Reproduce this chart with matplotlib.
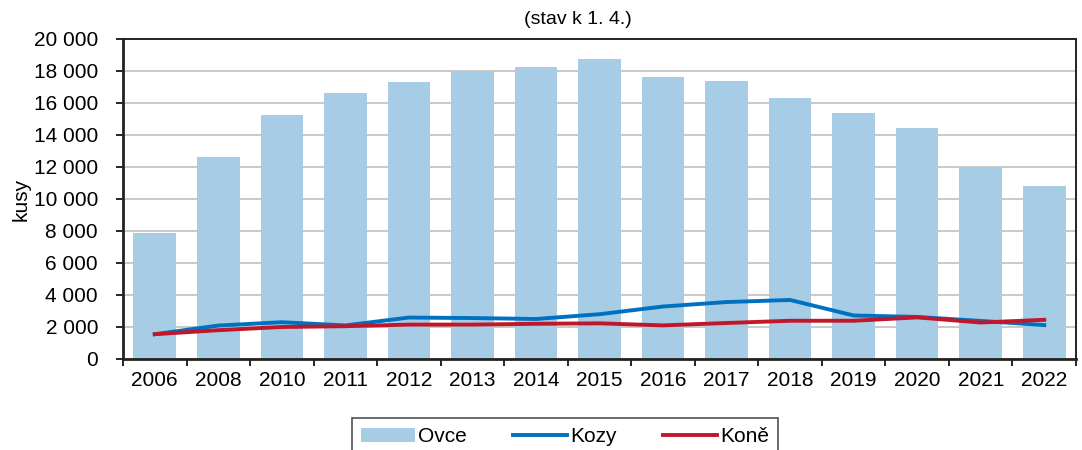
import matplotlib.pyplot as plt
import numpy as np
from matplotlib.ticker import FuncFormatter

plt.rcParams['font.family'] = ['Liberation Sans', 'DejaVu Sans']

years = ['2006', '2008', '2010', '2011', '2012', '2013', '2014', '2015',
         '2016', '2017', '2018', '2019', '2020', '2021', '2022']
ovce = [7850, 12620, 15250, 16650, 17310, 17970, 18250, 18750,
        17630, 17380, 16310, 15400, 14440, 12000, 10810]
kozy = [1550, 2090, 2300, 2100, 2590, 2560, 2500, 2800,
        3280, 3560, 3690, 2720, 2630, 2380, 2120]
kone = [1550, 1800, 2000, 2050, 2150, 2150, 2200, 2230,
        2100, 2250, 2390, 2390, 2600, 2280, 2450]

fig = plt.figure(figsize=(10.82, 4.5), dpi=100)
ax = fig.add_axes([123 / 1082, 1 - 359 / 450, (1076 - 123) / 1082, 320 / 450])

x = np.arange(len(years))
b = ax.bar(x, ovce, width=0.67, color='#a6cce6', label='Ovce', zorder=2)
l1, = ax.plot(x, kozy, color='#0070c0', lw=2.8, label='Kozy', zorder=3)
l2, = ax.plot(x, kone, color='#c0182a', lw=2.8, label='Koně', zorder=4)

ax.set_xlim(-0.5, len(years) - 0.5)
ax.set_ylim(0, 20000)
ax.set_yticks(range(0, 20001, 2000))
ax.yaxis.set_major_formatter(FuncFormatter(lambda v, p: f'{int(v):,}'.replace(',', ' ')))
ax.set_xticks(x)
ax.set_xticklabels(years)
ax.set_xticks(np.arange(-0.5, len(years), 1), minor=True)
ax.tick_params(axis='x', which='major', length=0, pad=9, labelsize=15)
ax.tick_params(axis='x', which='minor', length=5, width=1.2, direction='out')
ax.tick_params(axis='y', length=5, width=1.2, direction='out', labelsize=15, pad=13)
ax.grid(axis='y', color='#c0c0c0', lw=1.2, zorder=1)
ax.set_axisbelow(True)
for s in ax.spines.values():
    s.set_color('#222222')
    s.set_linewidth(1.4)
ax.spines['left'].set_linewidth(2)
ax.spines['bottom'].set_linewidth(2)

ax.set_ylabel('kusy', fontsize=15, labelpad=2)
fig.text(578 / 1082, 1 - 20 / 450, '(stav k 1. 4.)', ha='center', va='center', fontsize=14)

leg = fig.legend([b, l1, l2], ['Ovce', 'Kozy', 'Koně'], loc='upper center',
                 bbox_to_anchor=(565 / 1082, 1 - 418 / 450), ncol=3,
                 fontsize=15, frameon=True, fancybox=False, edgecolor='#222222',
                 handlelength=2.6, columnspacing=2.2, borderpad=0.45, handletextpad=0.15,
                 borderaxespad=0)
leg.get_frame().set_linewidth(1.2)

fig.savefig('out.png', dpi=100)
